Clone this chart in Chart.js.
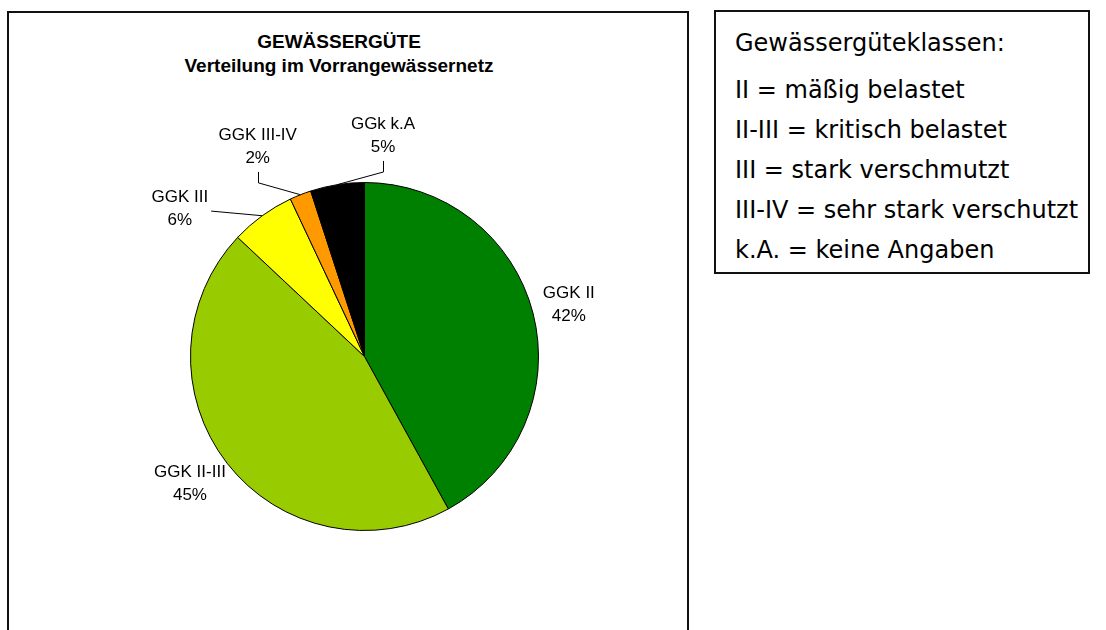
<!DOCTYPE html>
<html>
<head>
<meta charset="utf-8">
<script src="https://cdn.jsdelivr.net/npm/chart.js@4.4.0/dist/chart.umd.min.js"></script>
<style>
  body { margin: 0; background: #fff; overflow: hidden; width: 1106px; height: 630px; position: relative; }
  #chartBox { position: absolute; left: 7px; top: 11px; width: 682px; height: 700px; border: 2px solid #111; box-sizing: border-box; }
  #title { position: absolute; left: 139px; top: 30px; width: 400px; text-align: center;
           font: bold 19px "Liberation Sans", Arial, sans-serif; line-height: 24px; color: #000; }
  #pie { position: absolute; left: 9px; top: 13px; }
  #legendBox { position: absolute; left: 714px; top: 10px; width: 376px; height: 264px; border: 2px solid #111;
               box-sizing: border-box; padding: 11px 0 0 19px; font: 24px "DejaVu Sans", Verdana, sans-serif; color: #000; }
  #legendBox div { line-height: 40px; white-space: nowrap; }
  #legendBox .head { margin-bottom: 7px; }
</style>
</head>
<body>
<div id="chartBox"></div>
<div id="title">GEWÄSSERGÜTE<br>Verteilung im Vorrangewässernetz</div>
<canvas id="pie" width="677" height="617"></canvas>
<div id="legendBox">
  <div class="head">Gewässergüteklassen:</div>
  <div>II = mäßig belastet</div>
  <div>II-III = kritisch belastet</div>
  <div>III = stark verschmutzt</div>
  <div>III-IV = sehr stark verschutzt</div>
  <div>k.A. = keine Angaben</div>
</div>
<script>
// data (percent of network)
const classes = ['GGK II', 'GGK II-III', 'GGK III', 'GGK III-IV', 'GGk k.A'];
const shares = [42, 45, 6, 2, 5];
const sliceColors = ['#008000', '#99CC00', '#FFFF00', '#FF9900', '#000000'];

// where excel pushed the small labels out (angle from top clockwise, distance in radii)
const labelPlace = [null, null, { angle: 308.6, dist: 1.358 }, { angle: 333, dist: 1.352 }, { angle: 4.8, dist: 1.272 }];

const total = shares.reduce((s, v) => s + v, 0);

const sliceLabels = {
    id: 'sliceLabels',
    afterDatasetsDraw(chart) {
        const ctx = chart.ctx;
        const meta = chart.getDatasetMeta(0);
        ctx.save();
        ctx.font = '17px "Liberation Sans", Arial, sans-serif';
        ctx.fillStyle = '#000';
        ctx.strokeStyle = '#000';
        ctx.lineWidth = 1;
        ctx.textAlign = 'center';
        ctx.textBaseline = 'middle';
        meta.data.forEach((arc, i) => {
            const p = arc.getProps(['x', 'y', 'startAngle', 'endAngle', 'outerRadius'], true);
            const r = p.outerRadius;
            const mid = (p.startAngle + p.endAngle) / 2;
            const dx = Math.cos(mid), dy = Math.sin(mid);
            const line1 = classes[i];
            const line2 = Math.round(shares[i] / total * 100) + '%';
            const w = Math.max(ctx.measureText(line1).width, ctx.measureText(line2).width);
            const h = 45;
            let cx, cy;
            const place = labelPlace[i];
            if (place) {
                const a = (place.angle - 90) * Math.PI / 180;
                cx = p.x + Math.cos(a) * place.dist * r;
                cy = p.y + Math.sin(a) * place.dist * r;
            } else {
                const ax = p.x + dx * (r + 11), ay = p.y + dy * (r + 11);
                cx = ax + dx * w / 2;
                cy = ay + dy * h / 2;
            }
            ctx.fillText(line1, cx, cy - 11.5);
            ctx.fillText(line2, cx, cy + 11.5);

            if (place) {
                // leader line from label to the slice edge
                const ex = p.x + dx * r, ey = p.y + dy * r;
                ctx.beginPath();
                if (cy + 25 < ey - 10) {
                    const bx = Math.round(cx) + 0.5;
                    ctx.moveTo(bx, cy + 25);
                    ctx.lineTo(bx, cy + 36);
                    ctx.lineTo(ex, ey);
                } else {
                    ctx.moveTo(cx + w / 2 + 3, cy + 2);
                    ctx.lineTo(ex, ey);
                }
                ctx.stroke();
            }
        });
        ctx.restore();
    }
};

new Chart(document.getElementById('pie').getContext('2d'), {
    type: 'pie',
    data: {
        labels: classes,
        datasets: [{
            data: shares,
            backgroundColor: sliceColors,
            borderColor: '#000',
            borderWidth: 1,
            radius: 174
        }]
    },
    options: {
        responsive: false,
        animation: false,
        devicePixelRatio: 1,
        layout: { padding: { left: 34, right: 0, top: 80, bottom: 10 } },
        plugins: {
            legend: { display: false },
            tooltip: { enabled: false },
            title: { display: false }
        }
    },
    plugins: [sliceLabels]
});
</script>
</body>
</html>
